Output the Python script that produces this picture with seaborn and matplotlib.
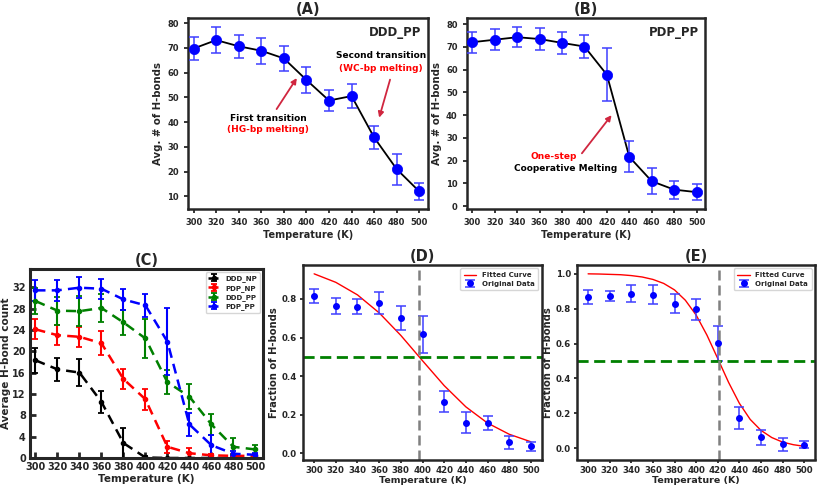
import numpy as np
import pandas as pd
import matplotlib
matplotlib.use("Agg")
import matplotlib.pyplot as plt
import seaborn as sns

# ---------------- data ----------------
temps = [300, 320, 340, 360, 380, 400, 420, 440, 460, 480, 500]

# (A) DDD_PP average number of H-bonds
a_hb = [69.7, 73.1, 70.6, 68.8, 65.7, 57.0, 48.7, 50.5, 33.8, 21.0, 12.0]
a_err = [4.7, 5.3, 4.7, 5.2, 5.0, 5.3, 4.4, 4.7, 4.6, 6.3, 3.6]

# (B) PDP_PP average number of H-bonds
b_hb = [72.0, 73.1, 74.2, 73.4, 71.7, 70.1, 57.7, 21.6, 10.9, 7.2, 6.1]
b_err = [4.6, 4.6, 4.5, 4.8, 4.75, 5.0, 11.7, 6.8, 5.8, 3.9, 3.6]

# (C) average H-bond count
c_labels = ["DDD_NP", "PDP_NP", "DDD_PP", "PDP_PP"]
c_colors = ["black", "red", "green", "blue"]
c_ddd_np = [18.3, 16.6, 16.0, 10.5, 2.8, 0.1, 0.0, 0.0, 0.0, 0.0, 0.0]
c_ddd_np_err = [2.35, 2.1, 2.5, 2.0, 2.75, 0.2, 0.0, 0.0, 0.0, 0.0, 0.0]
c_pdp_np = [24.1, 23.0, 22.7, 21.5, 14.8, 11.0, 2.1, 0.9, 0.5, 0.4, 0.4]
c_pdp_np_err = [1.9, 1.9, 1.85, 2.2, 1.9, 2.0, 1.1, 0.9, 0.3, 0.3, 0.3]
c_ddd_pp = [29.4, 27.6, 27.5, 28.1, 25.4, 22.4, 14.2, 11.5, 6.3, 2.1, 1.6]
c_ddd_pp_err = [2.5, 2.6, 2.8, 2.7, 2.35, 3.6, 2.2, 2.3, 1.9, 1.6, 0.8]
c_pdp_pp = [31.4, 31.4, 31.9, 31.7, 29.7, 28.6, 21.8, 6.3, 2.4, 0.8, 0.6]
c_pdp_pp_err = [1.9, 2.0, 1.95, 1.9, 1.9, 2.1, 6.3, 2.2, 2.0, 0.5, 0.4]

# (D) fraction of H-bonds, DDD
d_frac = [0.814, 0.764, 0.760, 0.778, 0.701, 0.618, 0.268, 0.159, 0.156, 0.057, 0.036]
d_err = [0.036, 0.040, 0.040, 0.057, 0.063, 0.096, 0.056, 0.056, 0.036, 0.033, 0.022]
d_fit = [0.930, 0.886, 0.821, 0.728, 0.611, 0.480, 0.351, 0.241, 0.157, 0.099, 0.060]
d_tm = 397

# (E) fraction of H-bonds, PDP
e_frac = [0.866, 0.870, 0.885, 0.879, 0.829, 0.795, 0.603, 0.174, 0.063, 0.023, 0.021]
e_err = [0.042, 0.028, 0.048, 0.054, 0.052, 0.062, 0.100, 0.063, 0.044, 0.036, 0.021]
e_fit_t = [300, 310, 320, 330, 340, 350, 360, 370, 380, 390, 400,
           410, 420, 430, 440, 450, 460, 470, 480, 490, 500]
e_fit = [0.999, 0.998, 0.996, 0.994, 0.989, 0.981, 0.967, 0.944, 0.907, 0.848, 0.763,
         0.648, 0.514, 0.378, 0.258, 0.166, 0.103, 0.062, 0.036, 0.021, 0.012]
e_tm = 421

# ---------------- style ----------------
sns.set_theme(style="ticks")
plt.rcParams["font.family"] = ["DejaVu Sans"]
plt.rcParams["font.weight"] = "bold"
plt.rcParams["axes.labelweight"] = "bold"
plt.rcParams["axes.titleweight"] = "bold"

fig = plt.figure(figsize=(8.17, 4.88), dpi=100)
W, H = 817.0, 488.0


def add_ax(l, t, r, b):
    return fig.add_axes([l / W, 1 - b / H, (r - l) / W, (b - t) / H])


axA = add_ax(188, 18.3, 427.7, 209)
axB = add_ax(466.7, 18.3, 705, 209)
axC = add_ax(30, 269, 263, 458)
axD = add_ax(303.3, 265, 541.7, 459.5)
axE = add_ax(577.3, 265, 815, 459.5)

arrow_col = "#d0263f"
eb_blue = (0.25, 0.25, 1.0, 0.85)


def top_style(ax, title, tag):
    for s in ax.spines.values():
        s.set_linewidth(1.8)
    ax.tick_params(labelsize=6, width=1.3, length=3)
    ax.set_xticks(temps)
    ax.set_xlim(295, 507.5)
    ax.set_xlabel("Temperature (K)", fontsize=7, labelpad=2)
    ax.set_ylabel("Avg. # of H-bonds", fontsize=7.3, labelpad=3)
    ax.set_title(title, fontsize=10.5, pad=3)
    ax.text(0.975, 0.96, tag, transform=ax.transAxes, ha="right", va="top",
            fontsize=8.5, fontweight="bold")


# (A)
sns.lineplot(x=temps, y=a_hb, ax=axA, color="black", lw=1.3, zorder=2)
axA.errorbar(temps, a_hb, yerr=a_err, fmt="none", ecolor=eb_blue, elinewidth=1.3,
             capsize=3.5, capthick=1.3, zorder=3)
sns.scatterplot(x=temps, y=a_hb, ax=axA, color="blue", s=55, edgecolor="blue",
                linewidth=0.5, zorder=4)
axA.set_yticks([10, 20, 30, 40, 50, 60, 70, 80])
top_style(axA, "(A)", "DDD_PP")
axA.text(466, 66.8, "Second transition", ha="center", va="center", fontsize=6.5,
         fontweight="bold", color="black")
axA.text(466, 61.8, "(WC-bp melting)", ha="center", va="center", fontsize=6.5,
         fontweight="bold", color="red")
axA.annotate("", xy=(463.8, 40.7), xytext=(474.8, 58.2),
             arrowprops=dict(arrowstyle="-|>", color=arrow_col, lw=1.3,
                             mutation_scale=8))
axA.text(366.2, 41.6, "First transition", ha="center", va="center", fontsize=6.5,
         fontweight="bold", color="black")
axA.text(366.2, 36.9, "(HG-bp melting)", ha="center", va="center", fontsize=6.5,
         fontweight="bold", color="red")
axA.annotate("", xy=(392.8, 58.7), xytext=(372.2, 44.3),
             arrowprops=dict(arrowstyle="-|>", color=arrow_col, lw=1.3,
                             mutation_scale=8))

# (B)
sns.lineplot(x=temps, y=b_hb, ax=axB, color="black", lw=1.3, zorder=2)
axB.errorbar(temps, b_hb, yerr=b_err, fmt="none", ecolor=eb_blue, elinewidth=1.3,
             capsize=3.5, capthick=1.3, zorder=3)
sns.scatterplot(x=temps, y=b_hb, ax=axB, color="blue", s=55, edgecolor="blue",
                linewidth=0.5, zorder=4)
axB.set_yticks([0, 10, 20, 30, 40, 50, 60, 70, 80])
top_style(axB, "(B)", "PDP_PP")
axB.text(372.8, 21.9, "One-step", ha="center", va="center", fontsize=6.5,
         fontweight="bold", color="red")
axB.text(383.1, 16.5, "Cooperative Melting", ha="center", va="center", fontsize=6.5,
         fontweight="bold", color="black")
axB.annotate("", xy=(425.7, 40.9), xytext=(396.2, 22.2),
             arrowprops=dict(arrowstyle="-|>", color=arrow_col, lw=1.3,
                             mutation_scale=8))

# (C)
c_vals = [c_ddd_np, c_pdp_np, c_ddd_pp, c_pdp_pp]
c_errs = [c_ddd_np_err, c_pdp_np_err, c_ddd_pp_err, c_pdp_pp_err]
for lab, col, v, e in zip(c_labels, c_colors, c_vals, c_errs):
    axC.errorbar(temps, v, yerr=e, fmt="o--", color=col, ms=3, lw=1.8,
                 elinewidth=1.5, capsize=2.5, capthick=1.3, label=lab,
                 dashes=(4, 2.5))
for s in axC.spines.values():
    s.set_linewidth(2.2)
axC.set_xticks(temps)
axC.set_yticks([0, 4, 8, 12, 16, 20, 24, 28, 32])
axC.set_xlim(295, 507)
axC.set_ylim(0, 35.4)
axC.tick_params(direction="in", length=4.5, width=2, labelsize=7, pad=3)
axC.set_xlabel("Temperature (K)", fontsize=7.5, labelpad=1)
axC.set_ylabel("Average H-bond count", fontsize=7.5, labelpad=1)
axC.set_title("(C)", fontsize=10.5, pad=3)
axC.legend(loc="upper right", fontsize=5, frameon=True, handlelength=1.6,
           borderpad=0.4, labelspacing=0.35, fancybox=True)


def frac_style(ax, title):
    for s in ax.spines.values():
        s.set_linewidth(1.8)
    ax.tick_params(labelsize=6.2, width=1.3, length=2.5, pad=2)
    ax.set_xticks(temps)
    ax.set_xlabel("Temperature (K)", fontsize=6.8, labelpad=1)
    ax.set_ylabel("Fraction of H-bonds", fontsize=7.2, labelpad=2)
    ax.set_title(title, fontsize=10.5, pad=3)
    ax.legend(loc="upper right", fontsize=5, frameon=True, handlelength=1.8,
              borderpad=0.5, labelspacing=0.4, fancybox=True)


# (D)
sns.lineplot(x=temps, y=d_fit, ax=axD, color="red", lw=1.0, label="Fitted Curve")
axD.errorbar(temps, d_frac, yerr=d_err, fmt="o", color="blue", ms=4,
             ecolor=eb_blue, elinewidth=1.3, capsize=3.5, capthick=1.3,
             label="Original Data")
axD.axhline(0.5, color="green", ls="--", lw=2, dashes=(4, 2))
axD.axvline(d_tm, color="gray", ls="--", lw=1.8, dashes=(4, 2))
axD.set_yticks([0.0, 0.2, 0.4, 0.6, 0.8])
frac_style(axD, "(D)")

# (E)
sns.lineplot(x=e_fit_t, y=e_fit, ax=axE, color="red", lw=1.0, label="Fitted Curve")
axE.errorbar(temps, e_frac, yerr=e_err, fmt="o", color="blue", ms=4,
             ecolor=eb_blue, elinewidth=1.3, capsize=3.5, capthick=1.3,
             label="Original Data")
axE.axhline(0.5, color="green", ls="--", lw=2, dashes=(4, 2))
axE.axvline(e_tm, color="gray", ls="--", lw=1.8, dashes=(4, 2))
axE.set_yticks([0.0, 0.2, 0.4, 0.6, 0.8, 1.0])
frac_style(axE, "(E)")

fig.savefig("out.png", dpi=100)
